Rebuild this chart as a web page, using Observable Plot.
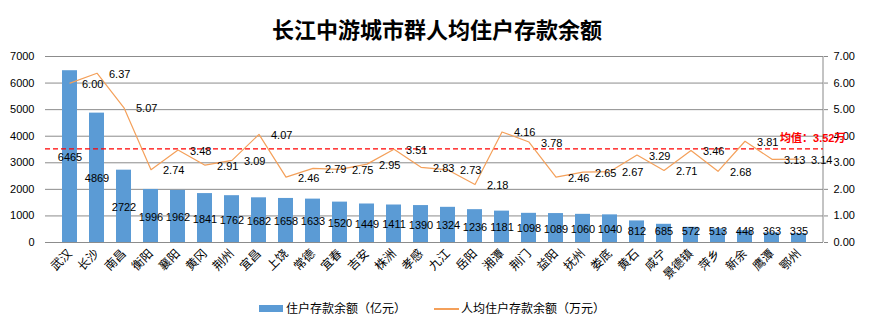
<!DOCTYPE html>
<html><head><meta charset="utf-8">
<script src="https://cdn.jsdelivr.net/npm/d3@7"></script>
<script src="https://cdn.jsdelivr.net/npm/@observablehq/plot@0.6"></script>
<style>
body{margin:0;background:#fff;font-family:"Noto Sans CJK SC",sans-serif;}
#title{height:27px;padding-top:17px;font-size:22px;line-height:22px;font-weight:bold;text-align:center;color:#000;width:874px;}
#legend{position:relative;width:874px;height:35px;font-size:12px;color:#000;}
#legend .sw{position:absolute;}
#legend .lb{position:absolute;top:6px;line-height:16px;white-space:nowrap;}
</style>
</head><body>
<div id="title">长江中游城市群人均住户存款余额</div>
<div id="chart"></div>
<div id="legend">
  <div class="sw" style="left:259px;top:11px;width:24px;height:7px;background:#5B9BD5"></div>
  <div class="lb" style="left:286px">住户存款余额（亿元）</div>
  <div class="sw" style="left:434px;top:14px;width:25px;height:1.5px;background:#F4A05A"></div>
  <div class="lb" style="left:461px">人均住户存款余额（万元）</div>
</div>
<script>
const cities = ["武汉","长沙","南昌","衡阳","襄阳","黄冈","荆州","宜昌","上饶","常德","宜春","吉安","株洲","孝感","九江","岳阳","湘潭","荆门","益阳","抚州","娄底","黄石","咸宁","景德镇","萍乡","新余","鹰潭","鄂州"];
const deposits = [6465,4869,2722,1996,1962,1841,1762,1682,1658,1633,1520,1449,1411,1390,1324,1236,1181,1098,1089,1060,1040,812,685,572,513,448,363,335];
const perCapita = [6.00,6.37,5.07,2.74,3.48,2.91,3.09,4.07,2.46,2.79,2.75,2.95,3.51,2.83,2.73,2.18,4.16,3.78,2.46,2.65,2.67,3.29,2.71,3.46,2.68,3.81,3.13,3.14];
const meanValue = 3.52;
const leftTicks = [0,1000,2000,3000,4000,5000,6000,7000];

const data = cities.map((c,i)=>({city:c, deposit:deposits[i], per:perCapita[i]}));
const font = '"Liberation Sans","Noto Sans CJK SC",sans-serif';

const rightLine = (index, scales, values, dimensions) => {
  const x = dimensions.width - dimensions.marginRight;
  const g = d3.create("svg:line")
    .attr("x1", x).attr("x2", x)
    .attr("y1", dimensions.marginTop).attr("y2", dimensions.height - dimensions.marginBottom)
    .attr("stroke", "#888");
  return g.node();
};

const chart = Plot.plot({
  width: 874,
  height: 250,
  marginTop: 12,
  marginBottom: 52,
  marginLeft: 45,
  marginRight: 51,
  style: {fontFamily: font, fontSize: "11px", color: "#000", background: "#fff"},
  x: {domain: cities, paddingInner: 0.46, paddingOuter: 0.23},
  y: {domain: [0, 7000]},
  marks: [
    Plot.gridY(leftTicks, {stroke: "#8c8c8c", strokeOpacity: 1}),
    Plot.axisY(leftTicks, {anchor: "left", tickSize: 0, tickPadding: 11, tickFormat: d => String(d), fontSize: 11, label: null}),
    Plot.axisY(leftTicks, {anchor: "right", tickSize: 4, tickPadding: 6, stroke: "#888", tickFormat: d => (d/1000).toFixed(2), fontSize: 11, label: null}),
    rightLine,
    Plot.axisX({tickRotate: -45, tickSize: 0, tickPadding: 9, fontSize: 12, fontFamily: '"Noto Sans CJK SC",sans-serif', label: null}),
    Plot.barY(data, {x: "city", y: "deposit", fill: "#5B9BD5"}),
    Plot.ruleY([0], {stroke: "#8c8c8c"}),
    Plot.ruleY([meanValue * 1000], {stroke: "#ff0000", strokeWidth: 1.3, strokeDasharray: "5,3"}),
    Plot.line(data, {x: "city", y: d => d.per * 1000, stroke: "#F4A05A", strokeWidth: 1.2}),
    Plot.text(data, {x: "city", y: d => Math.max(d.deposit / 2, 440), text: d => String(d.deposit), fontSize: 11, fill: "#000", dy: 1}),
    Plot.text(data, {x: "city", y: d => d.per * 1000, text: d => d.per.toFixed(2), textAnchor: "start", dx: 12, dy: 1, fontSize: 11, fill: "#000"}),
    Plot.text([meanValue], {y: d => d * 1000, frameAnchor: "right", textAnchor: "end", dx: 22, dy: -10, text: d => "均值：" + d.toFixed(2) + "万", fill: "#ff0000", fontWeight: "bold", fontSize: 11})
  ]
});
document.getElementById("chart").appendChild(chart);
</script>
</body></html>
